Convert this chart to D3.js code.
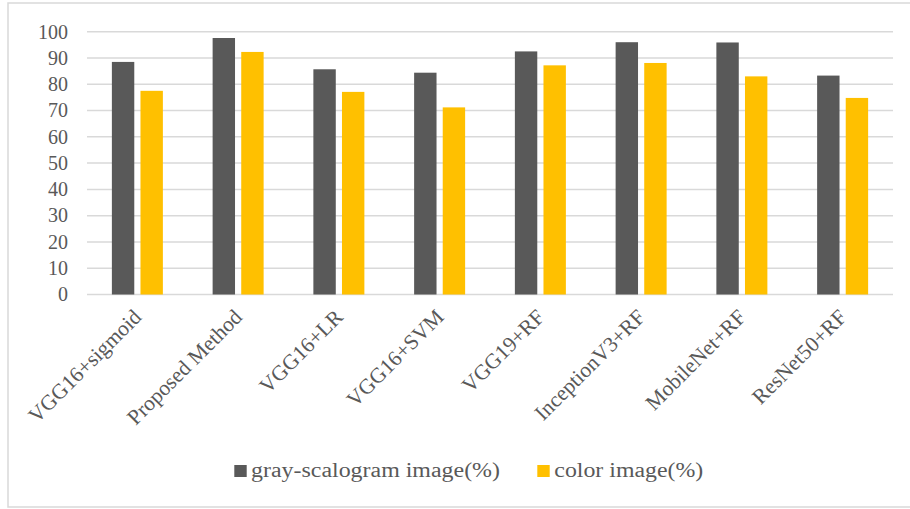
<!DOCTYPE html>
<html>
<head>
<meta charset="utf-8">
<script src="https://cdn.jsdelivr.net/npm/d3@7"></script>
<style>
  body { margin: 0; background: #fff; }
  svg { display: block; }
</style>
</head>
<body>
<div id="chart"></div>
<script>
// data
const categories = ["VGG16+sigmoid", "Proposed Method", "VGG16+LR", "VGG16+SVM",
  "VGG19+RF", "InceptionV3+RF", "MobileNet+RF", "ResNet50+RF"];
const seriesNames = ["gray-scalogram image(%)", "color image(%)"];
const grayValues = [88.5, 97.6, 85.7, 84.4, 92.5, 96.0, 95.9, 83.3];
const colorValues = [77.5, 92.3, 77.1, 71.2, 87.2, 88.1, 83.0, 74.8];
const yTicks = [0, 10, 20, 30, 40, 50, 60, 70, 80, 90, 100];

const width = 910, height = 509;
const colors = ["#595959", "#FFC000"];
const textColor = "#595959";
const gridColor = "#D9D9D9";
const font = '"Liberation Serif"';

const svg = d3.select("#chart").append("svg")
  .attr("width", width)
  .attr("height", height);

// outer frame
svg.append("rect")
  .attr("x", 8).attr("y", 3)
  .attr("width", 910).attr("height", 504)
  .attr("fill", "none")
  .attr("stroke", gridColor)
  .attr("stroke-width", 1.5);

const plot = { left: 87, right: 893, top: 31.7, bottom: 294.5 };

const y = d3.scaleLinear().domain([0, 100]).range([plot.bottom, plot.top]);
const x0 = d3.scaleBand().domain(categories).range([plot.left, plot.right]).padding(0);
const groupW = 51;
const x1 = d3.scaleBand().domain(seriesNames).range([0, groupW]).paddingInner(0.217);

// gridlines
svg.append("g")
  .selectAll("line")
  .data(yTicks)
  .join("line")
  .attr("x1", plot.left).attr("x2", plot.right)
  .attr("y1", d => y(d)).attr("y2", d => y(d))
  .attr("stroke", gridColor)
  .attr("stroke-width", 1.5);

// y tick labels
svg.append("g")
  .selectAll("text")
  .data(yTicks)
  .join("text")
  .attr("x", 68)
  .attr("y", d => y(d))
  .attr("dy", "0.34em")
  .attr("text-anchor", "end")
  .style("font-family", font)
  .attr("font-size", 20)
  .attr("fill", textColor)
  .text(d => d);

// bars
const rows = categories.map((c, i) => ({ cat: c, vals: [grayValues[i], colorValues[i]] }));
const groups = svg.append("g")
  .selectAll("g")
  .data(rows)
  .join("g")
  .attr("transform", d => `translate(${x0(d.cat) + (x0.bandwidth() - groupW) / 2},0)`);

groups.selectAll("rect")
  .data(d => d.vals.map((v, j) => ({ name: seriesNames[j], v: v, j: j })))
  .join("rect")
  .attr("x", d => x1(d.name))
  .attr("width", x1.bandwidth())
  .attr("y", d => y(d.v))
  .attr("height", d => y(0) - y(d.v))
  .attr("fill", d => colors[d.j]);

// category labels, rotated
svg.append("g")
  .selectAll("text")
  .data(categories)
  .join("text")
  .attr("transform", d => `translate(${x0(d) + x0.bandwidth() / 2 - 5},308) rotate(-45)`)
  .attr("dy", "0.68em")
  .attr("text-anchor", "end")
  .style("font-family", font)
  .attr("font-size", 21.5)
  .attr("fill", textColor)
  .text(d => d);

// legend
const legendItems = [
  { name: seriesNames[0], sx: 234.3, tx: 251, tw: 249 },
  { name: seriesNames[1], sx: 537.3, tx: 554.3, tw: 149 }
];
const legend = svg.append("g");
legend.selectAll("rect")
  .data(legendItems)
  .join("rect")
  .attr("x", d => d.sx)
  .attr("y", 465)
  .attr("width", 12.4)
  .attr("height", 12)
  .attr("fill", (d, i) => colors[i]);
legend.selectAll("text")
  .data(legendItems)
  .join("text")
  .attr("x", d => d.tx)
  .attr("y", 477)
  .attr("textLength", d => d.tw)
  .attr("lengthAdjust", "spacingAndGlyphs")
  .style("font-family", font)
  .attr("font-size", 20.5)
  .attr("fill", textColor)
  .text(d => d.name);
</script>
</body>
</html>
